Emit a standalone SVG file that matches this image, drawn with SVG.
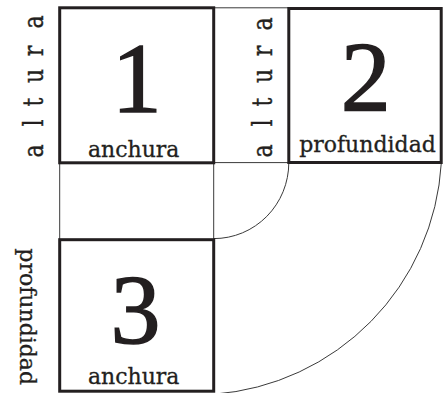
<svg xmlns="http://www.w3.org/2000/svg" width="445" height="393" viewBox="0 0 445 393">
<style>
.box{fill:none;stroke:#231f20;stroke-width:3}
.thin{fill:none;stroke:#3a3a3a;stroke-width:1}
.lbl{font-family:"DejaVu Serif","Liberation Serif",serif;font-size:22px;fill:#231f20;stroke:#231f20;stroke-width:0.3}
.num{font-family:"Liberation Serif","DejaVu Serif",serif;font-size:100px;fill:#231f20;stroke:#231f20;stroke-width:1.5;text-anchor:middle}
.mid{text-anchor:middle}
</style>
<rect width="445" height="393" fill="#fff"/>
<g id="connectors">
<line class="thin" x1="213.7" y1="7.8" x2="288.8" y2="7.8"/>
<line class="thin" x1="213.7" y1="162.6" x2="288.8" y2="162.6"/>
<line class="thin" x1="59.7" y1="162.6" x2="59.7" y2="239.7"/>
<line class="thin" x1="213.7" y1="162.6" x2="213.7" y2="239.7"/>
<path class="thin" d="M288.8 162.6 A75 76 0 0 1 213.7 238.6"/>
<path class="thin" d="M441.3 163 A246.2 246.2 0 0 1 214 394.2"/>
</g>
<g id="altura-left">
<text class="lbl" transform="translate(42.5,151) rotate(-90) scale(1,1.25)" x="0 28 49 75 100 129" y="0" text-anchor="middle">altura</text>
</g>
<g id="altura-mid">
<text class="lbl" transform="translate(272,151) rotate(-90) scale(1,1.25)" x="0 28 49 75 100 127" y="0" text-anchor="middle">altura</text>
</g>
<g id="profundidad-left">
<text class="lbl mid" transform="translate(20,316.7) rotate(90)" x="0" y="0">profundidad</text>
</g>
<g id="node1">
<rect class="box" x="59.7" y="7.8" width="154" height="155"/>
<text class="num" x="136.7" y="111.5">1</text>
<text class="lbl mid" x="133.7" y="157">anchura</text>
</g>
<g id="node2">
<rect class="box" x="288.8" y="8.5" width="152.4" height="154"/>
<text class="num" x="365.8" y="110">2</text>
<text class="lbl mid" x="367.5" y="152">profundidad</text>
</g>
<g id="node3">
<rect class="box" x="59.7" y="239.7" width="154" height="151.5"/>
<text class="num" x="135.5" y="342.5">3</text>
<text class="lbl mid" x="133.7" y="384">anchura</text>
</g>
</svg>
